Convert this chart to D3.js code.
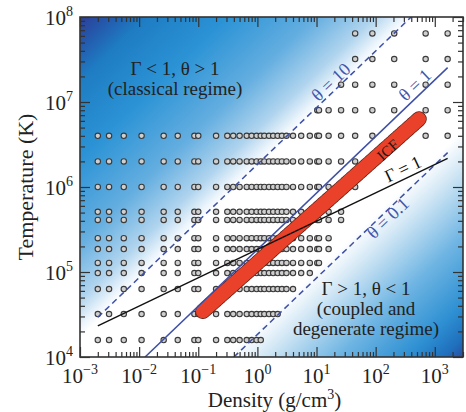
<!DOCTYPE html>
<html>
<head>
<meta charset="utf-8">
<script src="https://cdn.jsdelivr.net/npm/d3@7"></script>
<style>
body { margin: 0; background: #fff; }
svg text { font-family: "Liberation Serif", "Times New Roman", serif; }
</style>
</head>
<body>
<div id="chart"></div>
<script>
const width = 466, height = 412;
const margin = {top: 17, right: 3, bottom: 55, left: 80};
const w = width - margin.left - margin.right;
const h = height - margin.top - margin.bottom;

// axis ticks
const xTicks = [1e-3, 1e-2, 1e-1, 1e0, 1e1, 1e2, 1e3];
const xExp = ["\u22123", "\u22122", "\u22121", "0", "1", "2", "3"];
const yTicks = [1e4, 1e5, 1e6, 1e7, 1e8];
const yExp = ["4", "5", "6", "7", "8"];

// simulation grid (temperature rows, density columns)
const tempRows = [6.4e7, 3.2e7, 1.6e7, 8e6, 4e6, 2e6, 1e6, 5.1e5, 4.1e5, 2.5e5, 1.86e5, 1.28e5, 9.7e4, 6.3e4, 3.2e4, 1.58e4];
const densCols = [0.002, 0.0031, 0.0055, 0.011, 0.026, 0.045, 0.086, 0.10, 0.2, 0.31, 0.39, 0.5, 0.66, 0.8, 0.97,
  1.14, 1.31, 1.57, 1.85, 2.2, 2.6, 3.1, 4.0, 5.5, 7.7, 10.3, 11, 16, 26, 45, 88, 206, 700, 1650];
const rowMin = [45, 45, 26, 10.3, 0.002, 0.002, 0.002, 0.002, 0.002, 0.002, 0.002, 0.002, 0.002, 0.002, 0.002, 0.002];
const rowMax = [1650, 1650, 1650, 1650, 1650, 88, 45, 26, 26, 16, 16, 11, 7.7, 4.0, 2.2, 1.14];

// theta = T / T_F lines and Gamma = 1 line (end points)
const thetaNames = ["\u03b8 = 10", "\u03b8 = 1", "\u03b8 = 0.1"];
const thetaDens = [[0.002, 398], [0.0126, 1650], [0.40, 1650]];
const thetaTemp = [[2.93e4, 1e8], [1e4, 2.54e7], [1e4, 2.54e6]];
const gammaDens = [0.002, 1650];
const gammaTemp = [2.32e4, 2.17e6];

// ICF path
const icfDens = [0.12, 541];
const icfTemp = [3.45e4, 6.3e6];

const svg = d3.select("#chart").append("svg")
  .attr("width", width)
  .attr("height", height);

const x = d3.scaleLog().domain([1e-3, 3e3]).range([0, w]);
const y = d3.scaleLog().domain([1e4, 1e8]).range([h, 0]);

const defs = svg.append("defs");
defs.append("clipPath").attr("id", "clip")
  .append("rect").attr("width", w).attr("height", h);

// background gradient, runs across the theta lines
const grad = defs.append("linearGradient")
  .attr("id", "bg")
  .attr("gradientUnits", "userSpaceOnUse")
  .attr("x1", 0).attr("y1", 0)
  .attr("x2", 352.5).attr("y2", 368.3);
const stops = [
  [0, "#2c3f98"], [0.04, "#2458ab"], [0.09, "#1e7cc3"], [0.2, "#2b93d5"],
  [0.32, "#64aee0"], [0.40, "#b0d4ee"], [0.44, "#eef6fc"], [0.455, "#ffffff"],
  [0.68, "#ffffff"], [0.73, "#d2e7f5"], [0.83, "#6fb5e3"], [0.925, "#2e90d2"],
  [0.975, "#1f6fbd"], [1, "#2b4ea2"]
];
stops.forEach(function(s) {
  grad.append("stop").attr("offset", s[0]).attr("stop-color", s[1]);
});

const g = svg.append("g")
  .attr("transform", "translate(" + margin.left + "," + margin.top + ")");

g.append("rect").attr("width", w).attr("height", h).attr("fill", "url(#bg)");

const plot = g.append("g").attr("clip-path", "url(#clip)");

// grid points
let pts = [];
tempRows.forEach(function(t, i) {
  densCols.forEach(function(d) {
    if (d >= rowMin[i] && d <= rowMax[i]) pts.push([d, t]);
  });
});

plot.selectAll("circle.pt").data(pts).enter()
  .append("circle")
  .attr("class", "pt")
  .attr("cx", function(d) {return x(d[0])})
  .attr("cy", function(d) {return y(d[1])})
  .attr("r", 2.7)
  .attr("fill", "#cfcfcf")
  .attr("stroke", "#3a3a3a")
  .attr("stroke-width", 1.1);

// ICF band
const line = d3.line().x(function(d) {return x(d[0])}).y(function(d) {return y(d[1])});
const icf = icfDens.map(function(d, i) {return [d, icfTemp[i]]});
plot.append("path").attr("d", line(icf))
  .attr("fill", "none").attr("stroke", "#5b1f14").attr("stroke-width", 15.5)
  .attr("stroke-linecap", "round").attr("stroke-dasharray", "1.2 1.2");
plot.append("path").attr("d", line(icf))
  .attr("fill", "none").attr("stroke", "#ea412b").attr("stroke-width", 14)
  .attr("stroke-linecap", "round");

// theta lines
thetaNames.forEach(function(n, i) {
  const pts2 = thetaDens[i].map(function(d, j) {return [d, thetaTemp[i][j]]});
  plot.append("path").attr("d", line(pts2))
    .attr("fill", "none")
    .attr("stroke", "#3e4fa6")
    .attr("stroke-width", 1.5)
    .attr("stroke-dasharray", i == 1 ? null : "6 4");
});

// Gamma = 1
plot.append("path")
  .attr("d", line(gammaDens.map(function(d, i) {return [d, gammaTemp[i]]})))
  .attr("fill", "none").attr("stroke", "#111").attr("stroke-width", 1.4);

// axes: ticks inside on all four sides
function minors(lo, hi) {
  let out = [];
  for (let e = lo; e <= hi; e++) for (let k = 2; k <= 9; k++) out.push(k * Math.pow(10, e));
  return out;
}
const xMinor = minors(-3, 3).filter(function(v) {return v <= 3e3});
const yMinor = minors(4, 7);

function styleAxis(sel) {
  sel.select(".domain").remove();
  sel.selectAll("line").attr("stroke", "#333").attr("stroke-width", 1.2);
}

[[d3.axisBottom, h], [d3.axisTop, 0]].forEach(function(a) {
  g.append("g").attr("transform", "translate(0," + a[1] + ")")
    .call(a[0](x).tickValues(xTicks).tickSize(-10).tickFormat("")).call(styleAxis);
  g.append("g").attr("transform", "translate(0," + a[1] + ")")
    .call(a[0](x).tickValues(xMinor).tickSize(-5).tickFormat("")).call(styleAxis);
});
[[d3.axisLeft, 0], [d3.axisRight, w]].forEach(function(a) {
  g.append("g").attr("transform", "translate(" + a[1] + ",0)")
    .call(a[0](y).tickValues(yTicks).tickSize(-10).tickFormat("")).call(styleAxis);
  g.append("g").attr("transform", "translate(" + a[1] + ",0)")
    .call(a[0](y).tickValues(yMinor).tickSize(-5).tickFormat("")).call(styleAxis);
});

g.append("rect").attr("width", w).attr("height", h)
  .attr("fill", "none").attr("stroke", "#333").attr("stroke-width", 1.6);

// tick labels with superscripts
const xl = g.append("g").selectAll("text").data(xTicks).enter().append("text")
  .attr("x", function(d) {return x(d)})
  .attr("y", h + 26)
  .attr("text-anchor", "middle")
  .attr("font-size", 21)
  .attr("fill", "#222");
xl.append("tspan").text("10");
xl.append("tspan").attr("dy", -9).attr("font-size", 14).text(function(d, i) {return xExp[i]});

const yl = g.append("g").selectAll("text").data(yTicks).enter().append("text")
  .attr("x", -7)
  .attr("y", function(d) {return y(d) + 8})
  .attr("text-anchor", "end")
  .attr("font-size", 21)
  .attr("fill", "#222");
yl.append("tspan").text("10");
yl.append("tspan").attr("dy", -9).attr("font-size", 14).text(function(d, i) {return yExp[i]});

// axis titles
const xt = g.append("text")
  .attr("x", w / 2 + 3).attr("y", h + 50)
  .attr("text-anchor", "middle").attr("font-size", 21).attr("fill", "#222");
xt.append("tspan").text("Density (g/cm");
xt.append("tspan").attr("dy", -8).attr("font-size", 14).text("3");
xt.append("tspan").attr("dy", 8).text(")");

g.append("text")
  .attr("transform", "translate(" + (33 - margin.left) + "," + (h / 2) + ")rotate(-90)")
  .attr("text-anchor", "middle").attr("font-size", 22).attr("fill", "#222")
  .text("Temperature (K)");

// annotations
function rotText(px, py, ang, txt, size, color) {
  g.append("text")
    .attr("transform", "translate(" + (px - margin.left) + "," + (py - margin.top) + ")rotate(" + ang + ")")
    .attr("text-anchor", "middle").attr("dominant-baseline", "central")
    .attr("font-size", size).attr("fill", color).text(txt);
}
rotText(331, 82, -43.7, thetaNames[0], 18, "#4455a8");
rotText(415, 85, -43.7, thetaNames[1], 18, "#4455a8");
rotText(388, 218, -43.7, thetaNames[2], 18, "#4455a8");
rotText(403, 169, -25.4, "\u0393 = 1", 18, "#111");
rotText(388, 150, -41.6, "ICF", 15, "#1a1a1a");

function block(cx, by, lines) {
  lines.forEach(function(s, i) {
    g.append("text")
      .attr("x", cx - margin.left).attr("y", by - margin.top + i * 20)
      .attr("text-anchor", "middle").attr("font-size", 19).attr("fill", "#222")
      .text(s);
  });
}
block(175, 75, ["\u0393 < 1, \u03b8 > 1", "(classical regime)"]);
block(366, 295, ["\u0393 > 1, \u03b8 < 1", "(coupled and", "degenerate regime)"]);
</script>
</body>
</html>
